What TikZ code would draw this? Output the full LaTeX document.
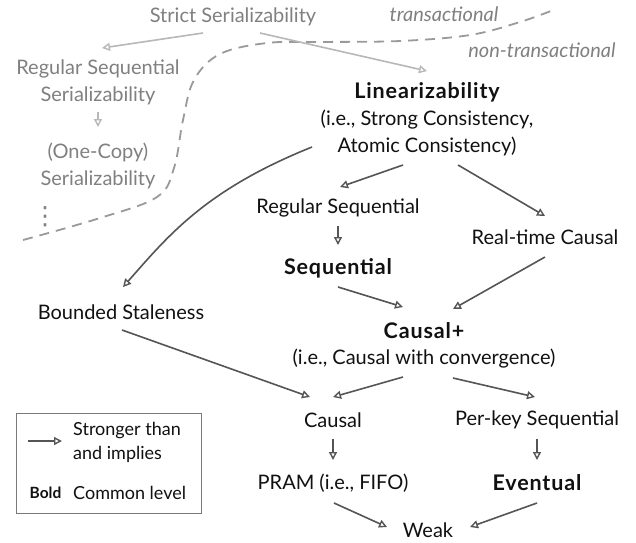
\documentclass[tikz,border=0pt]{standalone}
\usepackage{fontspec}
\setmainfont{Lato}
\newfontfamily\symfont{DejaVu Sans}
\usetikzlibrary{arrows.meta}
\definecolor{ink}{HTML}{111111}
\definecolor{arr}{HTML}{555555}
\definecolor{boxc}{HTML}{7A7A7A}
\definecolor{tx}{HTML}{808080}
\definecolor{txarr}{HTML}{B8B8B8}
\definecolor{dashc}{HTML}{9A9A9A}
\newcommand\boldlbl[1]{{\fontsize{21.5}{27}\selectfont\bfseries\addfontfeatures{LetterSpace=4}#1}}
\begin{document}
\begin{tikzpicture}[x=1pt,y=-1pt,
  lbl/.style={font=\fontsize{20}{27}\selectfont, text=ink, align=center, inner sep=0pt},
  tlbl/.style={lbl, text=tx},
  smalllbl/.style={font=\fontsize{18}{24}\selectfont, text=ink, align=left, inner sep=0pt},
  imp/.style={draw=arr, line width=1.6pt, -{Triangle[open,length=8pt,width=8pt,line width=1.4pt]}},
  timp/.style={imp, draw=txarr},
]
\useasboundingbox[fill=white] (0,0) rectangle (636,542);

% transactional region
\node[tlbl] (ss) at (233,17) {Strict Serializability};
\node[tlbl] (rss) at (98,82.5) {Regular Sequential\\Serializability};
\node[tlbl] (ocs) at (98,165.5) {(One-Copy)\\Serializability};
\node[text=tx, font=\fontsize{25}{27}\symfont, inner sep=0pt, anchor=base] (more) at (45,224) {⋮};
\node[tlbl, font=\fontsize{20}{27}\selectfont\itshape] (trans) at (444,14) {transactional};
\node[tlbl, font=\fontsize{20}{27}\selectfont\itshape] (ntrans) at (542,50) {non-transactional};

\draw[dashc, line width=1.8pt, dash pattern=on 10pt off 7pt]
  plot[smooth, tension=0.6] coordinates {(23,240) (100,218) (157,197) (174,168) (183,120) (194,80) (220,54) (267,43) (320,42) (400,41) (470,35) (520,22) (556,9)};

% main nodes
\node[lbl] (lin) at (427,119.5) {\boldlbl{Linearizability}\\(i.e., Strong Consistency,\\Atomic Consistency)};
\node[lbl] (rseq) at (338,208) {Regular Sequential};
\node[lbl] (rtc) at (545,237) {Real-time Causal};
\node[lbl] (seq) at (338,268) {\boldlbl{Sequential}};
\node[lbl] (bs) at (121,312) {Bounded Staleness};
\node[lbl, font=\fontsize{20}{26}\selectfont] (cplus) at (424,345) {\boldlbl{Causal+}\\(i.e., Causal with convergence)};
\node[lbl] (causal) at (333,420) {Causal};
\node[lbl] (pks) at (537,420) {Per-key Sequential};
\node[lbl] (pram) at (333,483) {PRAM (i.e., FIFO)};
\node[lbl] (ev) at (537,483) {\boldlbl{Eventual}};
\node[lbl] (weak) at (428,530) {Weak};

% transactional arrows
\draw[timp] ([shift={(-30,16)}]ss.center) -- ([shift={(4,-34.5)}]rss.center);
\draw[timp] ([shift={(27,16)}]ss.center) -- ([shift={(0,-48.5)}]lin.center);
\draw[timp] ([shift={(0,29.5)}]rss.center) -- ([shift={(0,-38.5)}]ocs.center);

% main arrows
\draw[imp] ([shift={(-24,45.5)}]lin.center) -- ([shift={(2,-21)}]rseq.center);
\draw[imp] ([shift={(31,45.5)}]lin.center) -- ([shift={(0,-21)}]rtc.center);
\draw[imp] ([shift={(-115,27.5)}]lin.center) .. controls (205,190) and (168,236) .. ([shift={(2,-25)}]bs.center);
\draw[imp] ([shift={(0,18)}]rseq.center) -- ([shift={(0,-23)}]seq.center);
\draw[imp] ([shift={(0,19)}]seq.center) -- ([shift={(-21,-38)}]cplus.center);
\draw[imp] ([shift={(0,20)}]rtc.center) -- ([shift={(29,-36)}]cplus.center);
\draw[imp] ([shift={(1,18)}]bs.center) -- ([shift={(-23,-23)}]causal.center);
\draw[imp] ([shift={(-21,32)}]cplus.center) -- ([shift={(0,-23)}]causal.center);
\draw[imp] ([shift={(29,33)}]cplus.center) -- ([shift={(-2,-23)}]pks.center);
\draw[imp] ([shift={(0,19)}]causal.center) -- ([shift={(0,-23)}]pram.center);
\draw[imp] ([shift={(0,19)}]pks.center) -- ([shift={(0,-23)}]ev.center);
\draw[imp] ([shift={(1,20)}]pram.center) -- ([shift={(-41,-3)}]weak.center);
\draw[imp] ([shift={(0,20)}]ev.center) -- ([shift={(42,-3)}]weak.center);

% legend
\node[draw=boxc, line width=0.9pt, minimum width=185pt, minimum height=100pt, inner sep=0pt] (legend) at (108.5,463) {};
\coordinate (la) at (28,441);
\coordinate (lb) at (62,441);
\draw[imp] (la) -- (lb);
\node[smalllbl, anchor=west] (ltxt) at (73,442) {Stronger than\\and implies};
\node[smalllbl, anchor=center, font=\fontsize{15.5}{20}\selectfont\bfseries] (lbold) at (45.5,493) {Bold};
\node[smalllbl, anchor=west] (lcom) at (73,493) {Common level};
\end{tikzpicture}
\end{document}
